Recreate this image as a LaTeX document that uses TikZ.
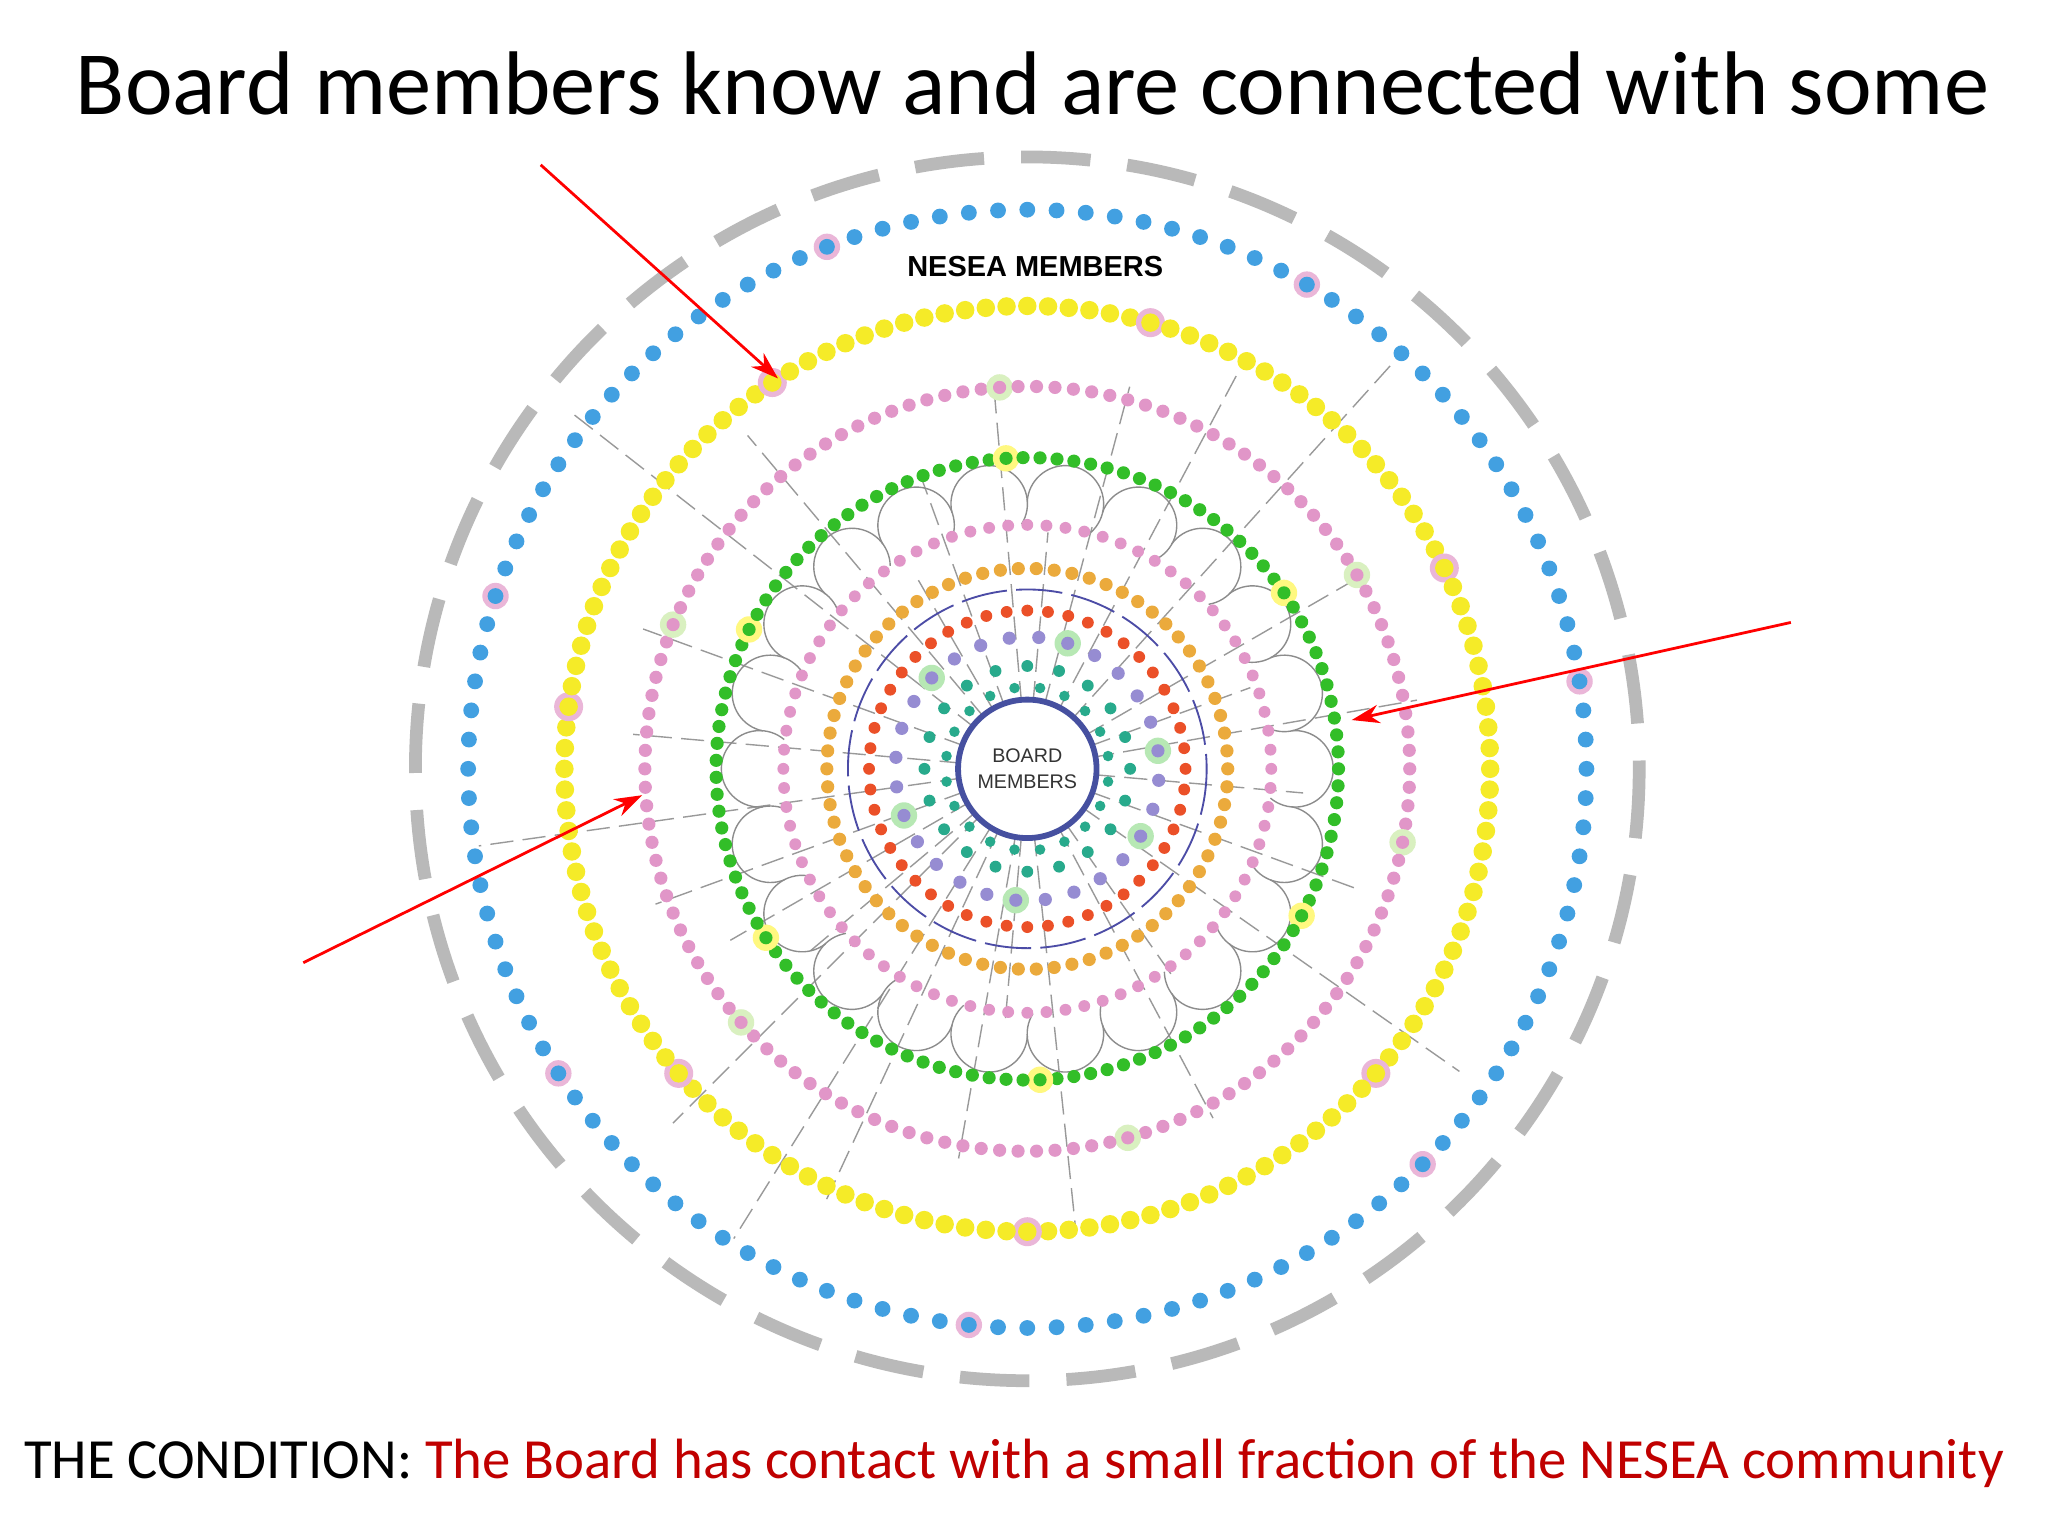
\documentclass[tikz,border=0pt]{standalone}
\usepackage{fontspec}
\setmainfont{Carlito}
\setsansfont{Liberation Sans}
\usetikzlibrary{calc,arrows.meta}
\definecolor{dblue}{RGB}{66,160,225}
\definecolor{dyel}{RGB}{245,235,40}
\definecolor{dpink}{RGB}{225,150,200}
\definecolor{dgreen}{RGB}{50,190,40}
\definecolor{dorange}{RGB}{235,170,60}
\definecolor{dred}{RGB}{235,80,40}
\definecolor{dpurp}{RGB}{150,140,210}
\definecolor{dteal}{RGB}{40,170,140}
\definecolor{bnavy}{RGB}{70,80,160}
\definecolor{cred}{RGB}{192,0,0}
\tikzset{
 spoke/.style={draw=gray!80,dashed,dash pattern=on 10 off 4,line width=0.6pt},
 loopline/.style={draw=gray!90,line width=0.6pt},
 redarrow/.style={draw=red,line width=1.2pt,-{Stealth[length=12pt,width=8pt]}}
}
\begin{document}
\begin{tikzpicture}[x=0.02cm,y=-0.02cm]
\useasboundingbox (0,0) rectangle (1553,1163);
\fill[white] (0,0) rectangle (1553,1163);
\coordinate (c) at (779,583);
\node[font=\fontsize{39}{44}\selectfont] (title) at (783,63) {Board members know and are connected with some};
% outer dashed
\draw[gray!55,line width=5.5pt,dash pattern=on 30 off 16] (c) circle[radius=464];
% spokes
\foreach \a/\r in {122/420,115/360,100/300,84/355,62/300,35/400,20/270,5/210,-10/300,-30/290,-48/420,-62/350,-75/300,-95/290,-110/240,-130/330,-142/440,-160/310,-175/300,172/420,160/300,150/260,140/220,135/380,-20/180,-120/170,55/190,-85/180,95/190}{
 \draw[spoke] (c) -- ($(c)+(\a:\r)$);
}
% loops
\foreach \i in {0,...,21}{
 \pgfmathsetmacro\t{\i*(360/22)}
 \draw[loopline] ($(c)+(\t:203)+(\t-95:29)$) arc[start angle=\t-95,end angle=\t+130,radius=29];
}
% blue ring
\foreach \i in {0,...,119}{
 \pgfmathsetmacro\t{\i*3}
 \pgfmathtruncatemacro\m{mod(\i*7,17)}
 \ifnum\m=3 \fill[dpink!70] ($(c)+(\t:424)$) circle[radius=10];\fi
 \fill[dblue] ($(c)+(\t:424)$) circle[radius=6];
}
% yellow ring
\foreach \i in {0,...,139}{
 \pgfmathsetmacro\t{\i*(360/140)}
 \pgfmathtruncatemacro\m{mod(\i*5,19)}
 \ifnum\m=4 \fill[dpink!70] ($(c)+(\t:351)$) circle[radius=11];\fi
 \fill[dyel] ($(c)+(\t:351)$) circle[radius=7];
}
% pink ring
\foreach \i in {0,...,129}{
 \pgfmathsetmacro\t{\i*(360/130)}
 \pgfmathtruncatemacro\m{mod(\i*7,23)}
 \ifnum\m=5 \fill[yellow!40!green!25] ($(c)+(\t:290)$) circle[radius=10];\fi
 \fill[dpink] ($(c)+(\t:290)$) circle[radius=5];
}
% green ring
\foreach \i in {0,...,114}{
 \pgfmathsetmacro\t{\i*(360/115)}
 \pgfmathtruncatemacro\m{mod(\i*7,19)}
 \ifnum\m=6 \fill[yellow!50] ($(c)+(\t:236)$) circle[radius=10];\fi
 \fill[dgreen] ($(c)+(\t:236)$) circle[radius=5];
}
% pink inner loop dots
\foreach \i in {0,...,79}{
 \pgfmathsetmacro\t{\i*4.5}
 \fill[dpink] ($(c)+(\t:185)$) circle[radius=4.5];
}
% orange ring
\foreach \i in {0,...,69}{
 \pgfmathsetmacro\t{\i*(360/70)}
 \fill[dorange] ($(c)+(\t:152)$) circle[radius=5];
}
\draw[blue!50!black!70,line width=0.8pt,dash pattern=on 20 off 4] (c) circle[radius=136];
% red ring
\foreach \i in {0,...,47}{
 \pgfmathsetmacro\t{\i*7.5}
 \fill[dred] ($(c)+(\t:120)$) circle[radius=4.5];
}
% inner
\foreach \i in {0,...,27}{
 \pgfmathsetmacro\t{\i*(360/28)+5}
 \pgfmathtruncatemacro\m{mod(\i,5)}
 \ifnum\m=2 \fill[dgreen!35] ($(c)+(\t:100)$) circle[radius=10];\fi
 \fill[dpurp] ($(c)+(\t:100)$) circle[radius=5];
}
\foreach \i in {0,...,19}{
 \pgfmathsetmacro\t{\i*18}
 \fill[dteal] ($(c)+(\t:78)$) circle[radius=4.5];
 \fill[dteal] ($(c)+(\t+9:62)$) circle[radius=4];
}
\node[circle,draw=bnavy,line width=2.5pt,fill=white,minimum size=105*0.02cm,inner sep=0pt,align=center,font=\sffamily\fontsize{8.5}{11}\selectfont,text=black!80] (board) at (c) {BOARD\\MEMBERS};
\node[font=\sffamily\bfseries\fontsize{12.5}{14}\selectfont] (nesea) at (785,202) {NESEA MEMBERS};
% arrows
\coordinate (a1s) at (410,125); \coordinate (a1e) at (590,287);
\coordinate (a2s) at (1358,472); \coordinate (a2e) at (1025,546);
\coordinate (a3s) at (230,730); \coordinate (a3e) at (487,603);
\draw[redarrow] (a1s) -- (a1e);
\draw[redarrow] (a2s) -- (a2e);
\draw[redarrow] (a3s) -- (a3e);
\node[font=\fontsize{24.5}{28}\selectfont,anchor=west] (cond) at (12,1110) {THE CONDITION: \textcolor{cred}{The Board has contact with a small fraction of the NESEA community}};
\end{tikzpicture}
\end{document}
